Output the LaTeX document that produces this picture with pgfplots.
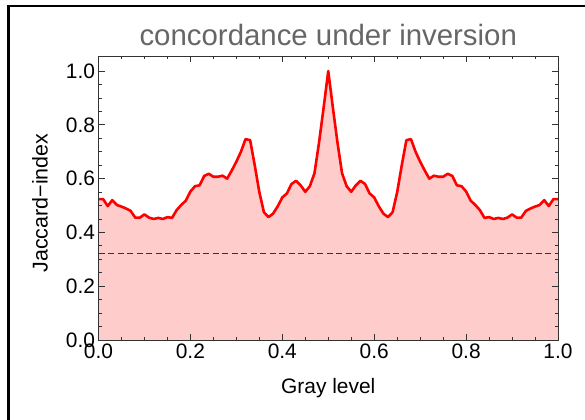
\documentclass[border=0pt]{standalone}
\usepackage{fontspec}
\setmainfont{Liberation Sans}
\usepackage{pgfplots}
\usepackage{pgfplotstable}
\pgfplotsset{compat=1.18}

\definecolor{curvered}{rgb}{1,0,0}
\definecolor{fillpink}{rgb}{1,0.8,0.8}
\definecolor{titlegray}{gray}{0.4}
\definecolor{framegray}{gray}{0.2}
\definecolor{refgray}{gray}{0.2}

% Jaccard index of the segmentation at each gray level
\pgfplotstableread{
x y
0.00 0.524
0.01 0.524
0.02 0.498
0.03 0.520
0.04 0.502
0.05 0.496
0.06 0.489
0.07 0.480
0.08 0.455
0.09 0.455
0.10 0.467
0.11 0.455
0.12 0.450
0.13 0.454
0.14 0.450
0.15 0.457
0.16 0.454
0.17 0.483
0.18 0.502
0.19 0.518
0.20 0.552
0.21 0.572
0.22 0.575
0.23 0.610
0.24 0.618
0.25 0.607
0.26 0.607
0.27 0.611
0.28 0.600
0.29 0.630
0.30 0.663
0.31 0.700
0.32 0.747
0.33 0.743
0.34 0.650
0.35 0.550
0.36 0.475
0.37 0.457
0.38 0.470
0.39 0.497
0.40 0.530
0.41 0.545
0.42 0.580
0.43 0.592
0.44 0.575
0.45 0.551
0.46 0.572
0.47 0.620
0.48 0.735
0.49 0.865
0.50 1.000
0.51 0.865
0.52 0.735
0.53 0.620
0.54 0.572
0.55 0.551
0.56 0.575
0.57 0.592
0.58 0.580
0.59 0.545
0.60 0.530
0.61 0.497
0.62 0.470
0.63 0.457
0.64 0.475
0.65 0.550
0.66 0.650
0.67 0.743
0.68 0.747
0.69 0.700
0.70 0.663
0.71 0.630
0.72 0.600
0.73 0.611
0.74 0.607
0.75 0.607
0.76 0.618
0.77 0.610
0.78 0.575
0.79 0.572
0.80 0.552
0.81 0.518
0.82 0.502
0.83 0.483
0.84 0.454
0.85 0.457
0.86 0.450
0.87 0.454
0.88 0.450
0.89 0.455
0.90 0.467
0.91 0.455
0.92 0.455
0.93 0.480
0.94 0.489
0.95 0.496
0.96 0.502
0.97 0.520
0.98 0.498
0.99 0.524
1.00 0.524
}\jaccard

\begin{document}
\begin{tikzpicture}[x=1bp,y=1bp]
\path[use as bounding box] (0,0) rectangle (585,419);
% outer frame
\draw[line width=2.5bp,black] (8.5,-10) -- (8.5,413) -- (600,413);
\begin{axis}[
  at={(98.5bp,79bp)}, anchor=south west,
  scale only axis, width=459.5bp, height=284bp,
  xmin=0, xmax=1, ymin=0, ymax=1.056,
  xtick={0,0.2,0.4,0.6,0.8,1.0},
  ytick={0,0.2,0.4,0.6,0.8,1.0},
  minor x tick num=3, minor y tick num=3,
  tick align=inside,
  major tick length=6bp, minor tick length=3.5bp,
  every tick/.style={framegray, line width=0.8bp},
  axis line style={framegray, line width=0.9bp},
  axis on top,
  /pgf/number format/assume math mode=true,
  /pgf/number format/fixed, /pgf/number format/fixed zerofill,
  /pgf/number format/precision=1,
  tick label style={font=\fontsize{21}{25}\selectfont, text=black},
  title={concordance under inversion},
  title style={font=\fontsize{29.5}{34}\selectfont, text=titlegray,
    at={(0.5,1)}, anchor=base, yshift=5bp},
  xlabel={Gray level},
  xlabel style={font=\fontsize{21}{25}\selectfont, at={(0.5,0)}, anchor=base, yshift=-53bp},
  ylabel={Jaccard\textminus index},
  ylabel style={font=\fontsize{21.5}{25}\selectfont,
    at={([xshift=-51bp,yshift=-5bp]axis description cs:0,0.5)}, anchor=base},
]
\addplot[fill=fillpink, draw=none] table {\jaccard} \closedcycle;
\addplot[refgray, line width=1.2bp, dash pattern=on 6bp off 3.5bp] coordinates {(0,0.322) (1,0.322)};
\addplot[curvered, line width=2.6bp, line join=round] table {\jaccard};
\end{axis}
\end{tikzpicture}
\end{document}
